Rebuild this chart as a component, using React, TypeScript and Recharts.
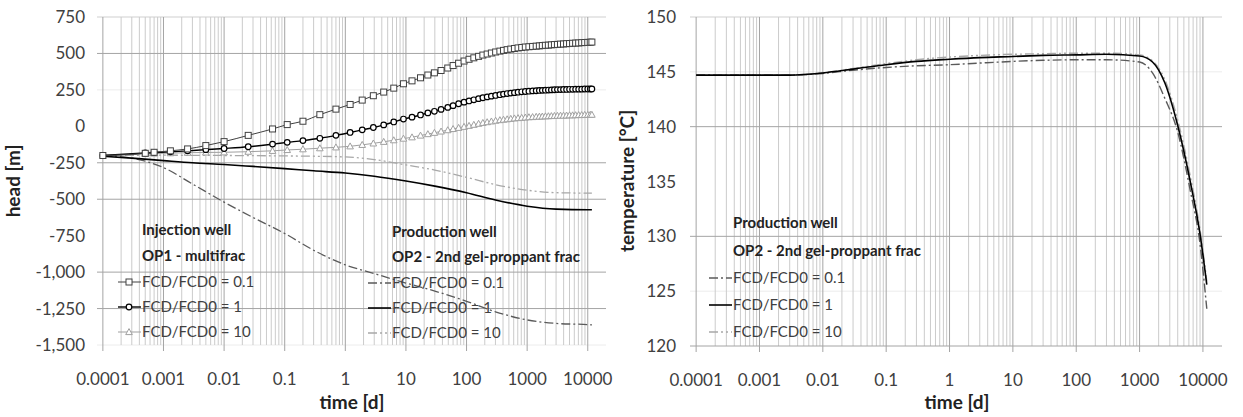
import React from 'react';
import { LineChart, Line, XAxis, YAxis, CartesianGrid } from 'recharts';

const FONT = 'Lato, "Noto Sans", sans-serif';

// ---- axes ----
const timeTicks = [0.0001, 0.001, 0.01, 0.1, 1, 10, 100, 1000, 10000];
const timeTickLabels = ['0.0001', '0.001', '0.01', '0.1', '1', '10', '100', '1000', '10000'];
const headTicks = [-1500, -1250, -1000, -750, -500, -250, 0, 250, 500, 750];
const tempTicks = [120, 125, 130, 135, 140, 145, 150];

// ---- injection well (OP1 - multifrac), head [m] ----
const injTime = [0.0001, 0.0005, 0.0007, 0.0013, 0.0025, 0.005, 0.01, 0.025, 0.063, 0.11,
  0.2, 0.38, 0.7, 1.2, 1.9, 2.9, 4.3, 6.3, 9.1, 12.6,
  17.4, 23, 29.5, 38, 49, 60, 74, 91, 110, 132,
  158, 186, 219, 257, 302, 355, 407, 468, 537, 617,
  708, 813, 933, 1070, 1230, 1410, 1590, 1780, 2000, 2240,
  2510, 2820, 3160, 3550, 3980, 4470, 5010, 5620, 6310, 7080,
  7940, 8910, 10000, 11000, 11700];
const injFcd01 = [-200, -185, -178, -168, -155, -132, -105, -62, -18, 12,
  35, 80, 118, 150, 180, 210, 235, 262, 292, 312,
  333, 352, 367, 383, 400, 417, 433, 448, 460, 470,
  480, 489, 496, 503, 510, 516, 521, 526, 530, 534,
  538, 541, 544, 546, 548, 550, 552, 554, 556, 557,
  559, 561, 562, 564, 565, 567, 568, 570, 571, 572,
  574, 575, 576, 577, 578];
const injFcd1 = [-200, -183, -180, -175, -168, -160, -152, -140, -122, -110,
  -98, -82, -62, -42, -24, -8, 10, 30, 50, 63,
  78, 92, 103, 116, 130, 142, 155, 166, 174, 182,
  190, 196, 202, 207, 212, 217, 221, 225, 228, 231,
  234, 237, 239, 241, 243, 244, 246, 247, 248, 249,
  250, 251, 252, 252, 253, 253, 254, 254, 255, 255,
  255, 256, 256, 256, 256];
const injFcd10 = [-200, -188, -186, -184, -181, -179, -178, -174, -168, -162,
  -157, -150, -144, -137, -127, -117, -106, -95, -84, -75,
  -63, -53, -44, -35, -26, -18, -10, -3, 4, 11,
  18, 24, 29, 34, 39, 43, 46, 49, 52, 55,
  57, 59, 61, 63, 64, 66, 67, 68, 69, 70,
  71, 72, 73, 74, 74, 75, 76, 76, 77, 78,
  78, 79, 79, 80, 80];

// ---- production well (OP2 - 2nd gel-proppant frac), head [m] ----
const prodTime = [0.0001, 0.0003, 0.001, 0.003, 0.01, 0.03, 0.1, 0.3, 1, 3, 10, 30, 100, 300, 1000, 3000, 10000, 11700];
const prodFcd01 = [-200, -218, -283, -395, -520, -625, -735, -850, -950, -1010, -1075, -1130, -1200, -1272, -1328, -1352, -1360, -1362];
const prodFcd1 = [-205, -218, -235, -250, -262, -275, -290, -305, -320, -342, -375, -410, -455, -505, -548, -568, -572, -572];
const prodFcd10 = [-200, -199, -198, -199, -200, -201, -203, -205, -210, -228, -265, -300, -350, -400, -438, -455, -458, -458];

// ---- production well temperature [°C] ----
const tempTime = [0.0001, 0.001, 0.003, 0.01, 0.03, 0.1, 0.3, 1, 3, 10, 30, 100, 300, 1000, 1600, 2500, 4000, 6300, 9000, 11500];
const tempFcd01 = [144.7, 144.7, 144.7, 144.85, 145.15, 145.4, 145.55, 145.65, 145.8, 145.95, 146.05, 146.1, 146.1, 145.9, 144.9, 142.6, 139.5, 134.2, 129.3, 123.4];
const tempFcd1 = [144.7, 144.7, 144.7, 144.9, 145.25, 145.65, 145.95, 146.15, 146.3, 146.4, 146.5, 146.55, 146.6, 146.45, 145.9, 144.0, 140.1, 135.0, 130.2, 125.6];
const tempFcd10 = [144.7, 144.7, 144.7, 144.9, 145.3, 145.75, 146.1, 146.35, 146.5, 146.6, 146.65, 146.7, 146.7, 146.55, 146.0, 144.3, 140.6, 135.5, 130.6, 125.9];

const rows = (ts: number[], vs: number[]) => ts.map((t, i) => ({ t, v: vs[i] }));

const X_DOMAIN: [number, number] = [0.00008, 20000];
const majorTimes: number[] = [];
const minorTimes: number[] = [];
for (let d = -4; d <= 4; d++) {
  for (let k = 1; k <= 9; k++) {
    const v = k * Math.pow(10, d);
    if (v > X_DOMAIN[1] * 0.999) continue;
    if (k === 1) majorTimes.push(v); else minorTimes.push(v);
  }
}

const C_MAJOR = '#a4a4a4';
const C_MINOR = '#cbcbcb';
const C_LIGHT = '#cfcfcf';
const C_FAINT = '#ececec';

const DASH_DOT = '9 3 2 3';
const DASH_DOT_DOT = '9 3 2 3 2 3';

const Square = ({ cx, cy }: any) => (
  <rect x={cx - 3} y={cy - 3} width={6} height={6} fill="#fff" stroke="#404040" strokeWidth={1} />
);
const Circ = ({ cx, cy }: any) => (
  <circle cx={cx} cy={cy} r={2.8} fill="#fff" stroke="#000" strokeWidth={1.2} />
);
const Tri = ({ cx, cy }: any) => (
  <polygon points={`${cx},${cy - 3.4} ${cx - 3.3},${cy + 2.6} ${cx + 3.3},${cy + 2.6}`} fill="#fff" stroke="#a0a0a0" strokeWidth={1} />
);

const tickStyle = { fontSize: 17, fill: '#404040', fontFamily: FONT };

function gridSet(majorLines: number[], lightLines: number[], faintLines: number[]) {
  return [
    <CartesianGrid key="gf" vertical={false} horizontalValues={faintLines} stroke={C_FAINT} />,
    <CartesianGrid key="gl" vertical={false} horizontalValues={lightLines} stroke={C_LIGHT} />,
    <CartesianGrid key="gm" horizontal={false} verticalValues={minorTimes} stroke={C_MINOR} />,
    <CartesianGrid key="gM" horizontal={false} verticalValues={majorTimes} stroke={C_MAJOR} />,
    <CartesianGrid key="gh" vertical={false} horizontalValues={majorLines} stroke={C_MAJOR} />,
  ];
}

const xAxisProps = {
  dataKey: 't',
  type: 'number' as const,
  scale: 'log' as const,
  domain: X_DOMAIN,
  allowDataOverflow: true,
  ticks: timeTicks,
  interval: 0 as const,
  tickFormatter: (v: number) => timeTickLabels[timeTicks.findIndex((t) => Math.abs(t - v) / t < 1e-6)] ?? String(v),
  tick: tickStyle,
  tickSize: 6,
  tickMargin: 22,
  axisLine: false,
  tickLine: { stroke: C_MAJOR },
  height: 50,
};

function HeadChart() {
  return (
    <LineChart width={616} height={417} margin={{ top: 17, right: 10, bottom: 22, left: 7 }}>
      {gridSet([500, -250, -500, -1000, -1250], [750], [250, -1500])}
      <XAxis {...xAxisProps} />
      <YAxis type="number" domain={[-1500, 750]} ticks={headTicks} interval={0}
        tickFormatter={(v: number) => v.toLocaleString('en-US')}
        tick={tickStyle} tickLine={false} axisLine={false} tickSize={0} tickMargin={12} width={90} />
      <Line data={rows(prodTime, prodFcd10)} dataKey="v" type="monotone" stroke="#a8a8a8" strokeWidth={1.3} strokeDasharray={DASH_DOT_DOT} dot={false} isAnimationActive={false} />
      <Line data={rows(prodTime, prodFcd01)} dataKey="v" type="monotone" stroke="#5a5a5a" strokeWidth={1.3} strokeDasharray={DASH_DOT} dot={false} isAnimationActive={false} />
      <Line data={rows(prodTime, prodFcd1)} dataKey="v" type="monotone" stroke="#000" strokeWidth={1.6} dot={false} isAnimationActive={false} />
      <Line data={rows(injTime, injFcd10)} dataKey="v" type="monotone" stroke="#a0a0a0" strokeWidth={1} isAnimationActive={false}
        dot={(p: any) => <Tri key={`t${p.index}`} cx={p.cx} cy={p.cy} />} activeDot={false} />
      <Line data={rows(injTime, injFcd1)} dataKey="v" type="monotone" stroke="#000" strokeWidth={1.4} isAnimationActive={false}
        dot={(p: any) => <Circ key={`c${p.index}`} cx={p.cx} cy={p.cy} />} activeDot={false} />
      <Line data={rows(injTime, injFcd01)} dataKey="v" type="monotone" stroke="#404040" strokeWidth={1} isAnimationActive={false}
        dot={(p: any) => <Square key={`s${p.index}`} cx={p.cx} cy={p.cy} />} activeDot={false} />
    </LineChart>
  );
}

function TempChart() {
  return (
    <LineChart width={632} height={417} margin={{ top: 17, right: 18, bottom: 21, left: 2 }}>
      {gridSet([140, 130, 120], [150], [145, 125])}
      <XAxis {...xAxisProps} />
      <YAxis type="number" domain={[120, 150]} ticks={tempTicks} interval={0}
        tick={tickStyle} tickLine={false} axisLine={false} tickSize={0} tickMargin={14} width={80} />
      <Line data={rows(tempTime, tempFcd10)} dataKey="v" type="monotone" stroke="#a8a8a8" strokeWidth={1.4} strokeDasharray={DASH_DOT_DOT} dot={false} isAnimationActive={false} />
      <Line data={rows(tempTime, tempFcd01)} dataKey="v" type="monotone" stroke="#5a5a5a" strokeWidth={1.4} strokeDasharray={DASH_DOT} dot={false} isAnimationActive={false} />
      <Line data={rows(tempTime, tempFcd1)} dataKey="v" type="monotone" stroke="#000" strokeWidth={1.6} dot={false} isAnimationActive={false} />
    </LineChart>
  );
}

type Entry = { label: string; stroke: string; width: number; dash?: string; mark?: 'sq' | 'ci' | 'tr' };

const injLegend: Entry[] = [
  { label: 'FCD/FCD0 = 0.1', stroke: '#404040', width: 1, mark: 'sq' },
  { label: 'FCD/FCD0 = 1', stroke: '#000', width: 1.4, mark: 'ci' },
  { label: 'FCD/FCD0 = 10', stroke: '#a0a0a0', width: 1, mark: 'tr' },
];
const prodLegend: Entry[] = [
  { label: 'FCD/FCD0 = 0.1', stroke: '#5a5a5a', width: 1.3, dash: DASH_DOT },
  { label: 'FCD/FCD0 = 1', stroke: '#000', width: 1.6 },
  { label: 'FCD/FCD0 = 10', stroke: '#a8a8a8', width: 1.3, dash: DASH_DOT_DOT },
];

function LegendBlock({ x, titles, titleYs, entries, entryYs }: { x: number; titles: string[]; titleYs: number[]; entries: Entry[]; entryYs: number[] }) {
  return (
    <g fontFamily={FONT} fontSize={15}>
      {titles.map((t, i) => (
        <text key={t} x={x} y={titleYs[i] + 5.4} fontWeight="bold" fill="#222">{t}</text>
      ))}
      {entries.map((e, i) => {
        const cy = entryYs[i];
        const mx = x - 13;
        return (
          <g key={e.label}>
            <line x1={x - 24} x2={x - 1} y1={cy} y2={cy} stroke={e.stroke} strokeWidth={e.width} strokeDasharray={e.dash} />
            {e.mark === 'sq' && <Square cx={mx} cy={cy} />}
            {e.mark === 'ci' && <Circ cx={mx} cy={cy} />}
            {e.mark === 'tr' && <Tri cx={mx} cy={cy} />}
            <text x={x} y={cy + 5.4} fill="#404040">{e.label}</text>
          </g>
        );
      })}
    </g>
  );
}

export default function App() {
  return (
    <div style={{ position: 'absolute', left: 0, top: 0, width: 1243, height: 417, background: '#fff', overflow: 'hidden' }}>
      <div style={{ position: 'absolute', left: 0, top: 0 }}>
        <HeadChart />
      </div>
      <div style={{ position: 'absolute', left: 608, top: 0 }}>
        <TempChart />
      </div>
      <svg width={1243} height={417} style={{ position: 'absolute', left: 0, top: 0, pointerEvents: 'none' }}>
        <text transform="translate(20,181) rotate(-90)" textAnchor="middle" fontFamily={FONT} fontSize={19} fontWeight="bold" fill="#222">head [m]</text>
        <text x={352} y={409} textAnchor="middle" fontFamily={FONT} fontSize={19} fontWeight="bold" fill="#222">time [d]</text>
        <text transform="translate(634,181) rotate(-90)" textAnchor="middle" fontFamily={FONT} fontSize={19} fontWeight="bold" fill="#222">temperature [°C]</text>
        <text x={957} y={409} textAnchor="middle" fontFamily={FONT} fontSize={19} fontWeight="bold" fill="#222">time [d]</text>
        <LegendBlock x={142} titles={['Injection well', 'OP1 - multifrac']} titleYs={[230, 256]} entries={injLegend} entryYs={[282, 307, 332]} />
        <LegendBlock x={392} titles={['Production well', 'OP2 - 2nd gel-proppant frac']} titleYs={[232, 257]} entries={prodLegend} entryYs={[283, 308, 333]} />
        <LegendBlock x={733} titles={['Production well', 'OP2 - 2nd gel-proppant frac']} titleYs={[223, 251]} entries={prodLegend} entryYs={[278, 305, 332]} />
      </svg>
    </div>
  );
}
